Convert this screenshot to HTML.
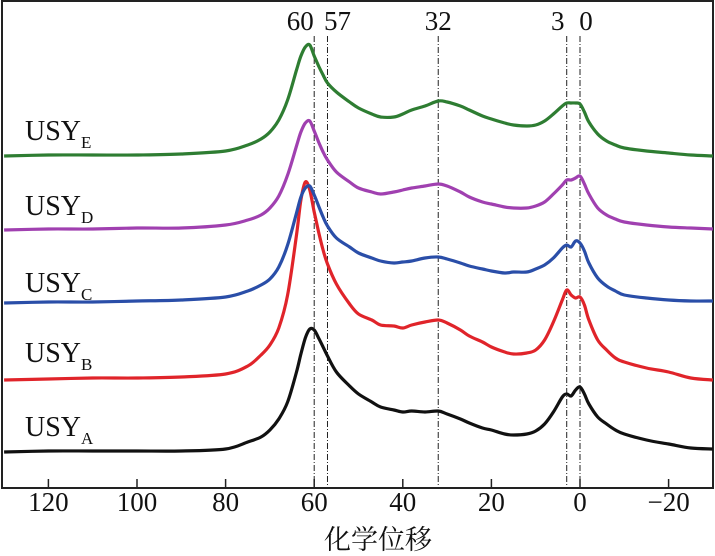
<!DOCTYPE html>
<html><head><meta charset="utf-8"><style>
html,body{margin:0;padding:0;background:#fff;}
svg{display:block;}
text{font-family:"Liberation Serif","Noto Serif CJK SC",serif;fill:#111;}
</style></head><body>
<svg id="chart" width="715" height="556">
<g id="plot"></g>
</svg>
<script>
const ppm=[130,120,110,100,90,80,75,72,70,68,66,64,63,62,61,60,59,58,57,55,52,50,47,45,42,40,38,35,32,30,27,25,22,20,17,15,12,10,8,6,4,3,2,1,0,-1,-2,-4,-6,-8,-10,-15,-20,-25,-30];
const seriesA=[0,1,1,1,1,3,10,15,22,33,50,80,98,114,123,122,114,105,96,80,66,58,50,45,42,40,41,40,41,38,33,29,24,22,18,17,18,21,28,40,55,58,56,62,65,58,48,35,28,22,18,12,8,4,3];
const seriesB=[0,1,2,2,3,6,14,25,35,52,85,145,180,198,190,168,148,130,116,96,76,66,60,55,54,52,55,58,60,57,50,44,38,33,28,26,27,30,40,58,80,90,85,82,83,75,60,40,30,22,18,12,8,2,0];
const seriesC=[0,1,1,2,3,6,12,18,24,36,58,90,106,115,117,108,97,86,77,65,56,50,45,42,40,41,42,45,46,44,40,37,34,32,30,31,31,34,38,45,55,58,56,62,60,52,40,25,17,12,8,5,3,2,2];
const seriesD=[0,1,1,2,2,5,10,15,22,34,55,84,98,107,109,99,88,78,70,58,48,42,38,36,38,40,42,44,46,44,38,33,28,26,23,22,22,24,28,36,45,50,50,52,54,46,36,22,15,11,8,5,3,2,1];
const seriesE=[0,1,1,1,2,5,11,17,24,36,56,86,100,109,111,100,90,81,73,64,54,48,42,39,39,42,46,50,55,54,50,46,40,37,33,31,30,31,35,42,50,53,53,53,52,44,34,22,15,11,8,5,3,1,0];
const offsets=[452,380,303,230,156];
const colors=["#111111","#e0242a","#2a4ea8","#a040b0","#2e7d32"];
const labelSubs=["A","B","C","D","E"];
const labelYs=[436,362,292,215,140];
const ticks=[120,100,80,60,40,20,0,-20];
const tickLabels=["120","100","80","60","40","20","0","\u221220"];
const refLines=[60,57,32,3,0];
const refLabels=["60","57","32","3","0"];

const X=v=>580-(v)*4.43;
const Y=(v,off)=>off-v;
const NS="http://www.w3.org/2000/svg";
const g=document.getElementById('plot');
function mk(t,a){const e=document.createElementNS(NS,t);for(const k in a)e.setAttribute(k,a[k]);g.appendChild(e);return e;}
function smooth(p){
 let d='M'+p[0][0].toFixed(1)+','+p[0][1].toFixed(1);
 for(let i=0;i<p.length-1;i++){
  const p0=p[i-1]||p[i],p1=p[i],p2=p[i+1],p3=p[i+2]||p2;
  const c1x=p1[0]+(p2[0]-p0[0])/6,c1y=p1[1]+(p2[1]-p0[1])/6;
  const c2x=p2[0]-(p3[0]-p1[0])/6,c2y=p2[1]-(p3[1]-p1[1])/6;
  d+=' C'+c1x.toFixed(1)+','+c1y.toFixed(1)+' '+c2x.toFixed(1)+','+c2y.toFixed(1)+' '+p2[0].toFixed(1)+','+p2[1].toFixed(1);
 }
 return d;
}

const frame=mk('rect',{x:2,y:1,width:711,height:487,fill:'none',stroke:'#222','stroke-width':2});



refLines.forEach((v,i)=>{
 const l=mk('line',{x1:X(v),x2:X(v),y1:36,y2:488,stroke:'#222','stroke-width':1,'stroke-dasharray':'6,2,1,2'});
 
 
 const dx = v===60?-14:(v===57?10:(v===3?-9:(v===0?6:0)));
 const t=mk('text',{x:X(v)+dx,y:30,'text-anchor':'middle','font-size':27});
 t.textContent=refLabels[i];
 
 
});

const all=[seriesA,seriesB,seriesC,seriesD,seriesE];
all.forEach((s,si)=>{
 const pts=s.map((v,i)=>[X(ppm[i]),Y(v,offsets[si])]);
 const p=mk('path',{d:smooth(pts),fill:'none',stroke:colors[si],'stroke-width':3.2,'stroke-linejoin':'round'});
 
 
 const t=mk('text',{x:25,y:labelYs[si],'font-size':28});
 t.innerHTML='USY<tspan font-size="17" dy="8">'+labelSubs[si]+'</tspan>';
 
 
});

ticks.forEach((v,i)=>{
 const l=mk('line',{x1:X(v),x2:X(v),y1:488,y2:479,stroke:'#222','stroke-width':1.5});
 
 
 const t=mk('text',{x:X(v),y:511,'text-anchor':'middle','font-size':27});
 t.textContent=tickLabels[i];
 
 
});
const xt=mk('text',{x:378,y:549,'text-anchor':'middle','font-size':27});
xt.textContent='化学位移';


</script>
</body></html>
